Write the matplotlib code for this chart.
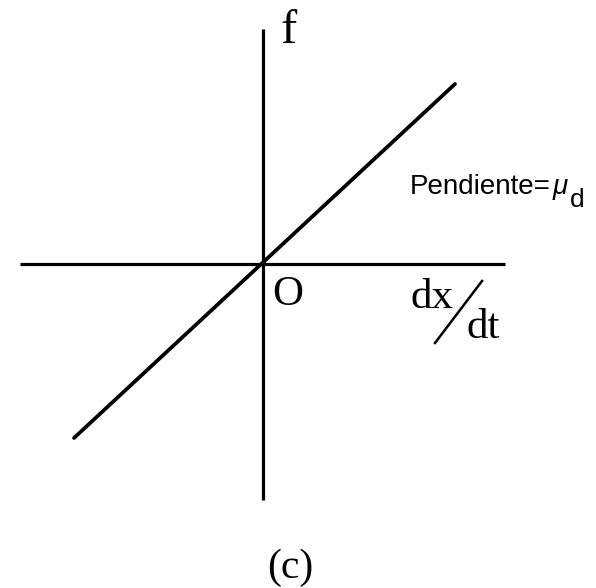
import matplotlib
matplotlib.use("Agg")
import matplotlib.pyplot as plt

# Friction force vs. velocity: straight line through the origin (slope mu_d).
# Units are arbitrary; one unit is one pixel at dpi=100.
x_axis = [-243, 242]
y_axis = [-236, 235]
vel = [-189, 192]
force = [-174, 180]

W, H = 596, 588
OX, OY = 263, 264  # origin position from the left / top edge

fig = plt.figure(figsize=(W / 100, H / 100), dpi=100)
ax = fig.add_axes([0, 0, 1, 1])
ax.set_xlim(-OX, W - OX)
ax.set_ylim(OY - H, OY)
ax.axis("off")

ax.plot(x_axis, [0, 0], color="black", lw=2.3, solid_capstyle="butt")
ax.plot([0, 0], y_axis, color="black", lw=2.3, solid_capstyle="butt")
ax.plot(vel, force, color="black", lw=2.7, solid_capstyle="round")

serif = "Liberation Serif"
sans = "Liberation Sans"
ax.text(18, 221, "f", family=serif, fontsize=35, ha="left", va="baseline")
ax.text(9, -41, "O", family=serif, fontsize=31, ha="left", va="baseline")
ax.text(148, -44, "dx", family=serif, fontsize=31, ha="left", va="baseline")
ax.text(204, -74, "dt", family=serif, fontsize=31, ha="left", va="baseline")
ax.plot([172, 219], [-79, -17], color="black", lw=1.8)

# slope label: "Pendiente=" then italic mu with a lowered d
ax.text(147, 70, "Pendiente=", family=sans, fontsize=20, ha="left", va="baseline")
ax.text(290, 70, "\u03bc", family=sans, style="italic", fontsize=20,
        ha="left", va="baseline")
ax.text(307, 57, "d", family=sans, fontsize=19, ha="left", va="baseline")

ax.text(27, -314, "(c)", family=serif, fontsize=30, ha="center", va="baseline")

fig.savefig("out.png", dpi=100, facecolor="white")
